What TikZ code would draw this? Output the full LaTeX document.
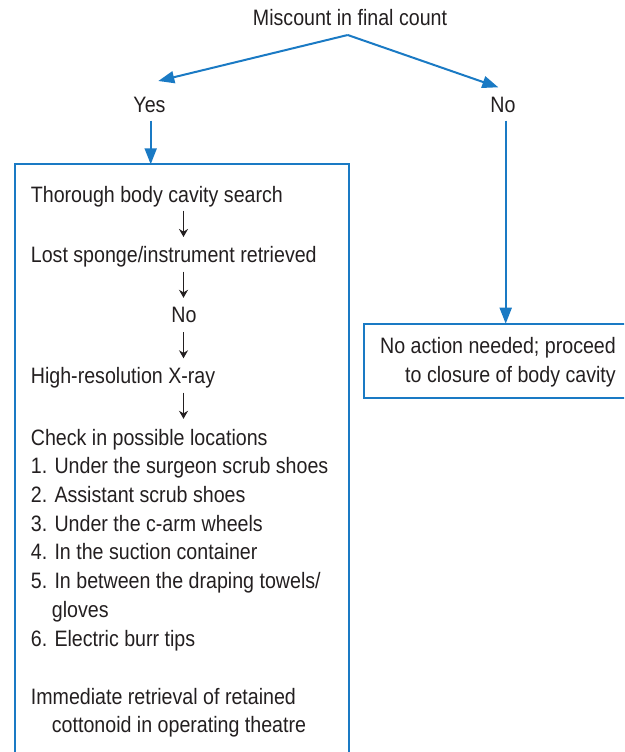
\documentclass[tikz,border=0pt]{standalone}
\usepackage{fontspec}
\setmainfont{Liberation Sans}[FakeStretch=0.88]
\usetikzlibrary{arrows.meta}
\definecolor{fblue}{HTML}{1A7AC4}
\definecolor{ftext}{HTML}{231F20}
\begin{document}
\begin{tikzpicture}[x=1pt,y=-1pt,
  font=\fontsize{22.3}{28.7}\selectfont,
  txt/.style={anchor=base west, inner sep=0pt, text=ftext},
  ctxt/.style={anchor=base, inner sep=0pt, text=ftext},
  boxstyle/.style={draw=fblue, line width=2pt, inner sep=0pt, anchor=north west},
  barrow/.style={-{Triangle[length=16pt,width=12pt]}, draw=fblue, line width=2pt},
  karrow/.style={-{Stealth[length=8pt,width=9pt]}, line width=1.6pt, draw=ftext}]
\useasboundingbox (0,0) rectangle (624,752);
\begin{scope}
\clip (0,0) rectangle (624,752);
% boxes
\node[boxstyle, minimum width=333.7pt, minimum height=640pt] (lbox) at (14,163.3) {};
\node[boxstyle, minimum width=300pt, minimum height=74pt] (rbox) at (363.3,322.7) {};
\end{scope}
% top
\node[ctxt] (top) at (350,26) {Miscount in final count};
\node[ctxt] (yes) at (149.5,112.3) {Yes};
\node[ctxt] (no) at (503,112.3) {No};
\coordinate (apex) at (347.7,35);
\coordinate (yestip) at (158.3,81);
\coordinate (notip) at (498.3,87.3);
\draw[barrow] (apex) -- (yestip);
\draw[barrow] (apex) -- (notip);
\coordinate (yesfrom) at (150.7,120.7);
\coordinate (nofrom) at (505.7,120.7);
\draw[barrow] (yesfrom) -- ([yshift=-1pt]yesfrom |- lbox.north);
\draw[barrow] (nofrom) -- ([yshift=-1pt]nofrom |- rbox.north);
% left box contents
\node[txt] (t1) at (30.7,202) {Thorough body cavity search};
\node[txt] (t2) at (30.7,262.7) {Lost sponge/instrument retrieved};
\node[ctxt] (t3) at (184,322) {No};
\node[txt] (t4) at (30.7,383) {High-resolution X-ray};
\node[txt] (t5) at (30.7,445) {Check in possible locations};
\node[txt] (l1) at (30.7,473.7) {1. Under the surgeon scrub shoes};
\node[txt] (l2) at (30.7,502.4) {2. Assistant scrub shoes};
\node[txt] (l3) at (30.7,531.1) {3. Under the c-arm wheels};
\node[txt] (l4) at (30.7,559.8) {4. In the suction container};
\node[txt] (l5) at (30.7,588.5) {5. In between the draping towels/};
\node[txt] (l5b) at (51.7,617) {gloves};
\node[txt] (l6) at (30.7,646) {6. Electric burr tips};
\node[txt] (im1) at (30.7,704) {Immediate retrieval of retained};
\node[txt] (im2) at (51.7,732.7) {cottonoid in operating theatre};
% black arrows
\coordinate (a1s) at (183.5,210.7); \coordinate (a1e) at (183.5,237);
\coordinate (a2s) at (183.5,271.5); \coordinate (a2e) at (183.5,297.8);
\coordinate (a3s) at (183.5,332); \coordinate (a3e) at (183.5,358.3);
\coordinate (a4s) at (183.5,392.5); \coordinate (a4e) at (183.5,418.8);
\draw[karrow] (a1s) -- (a1e);
\draw[karrow] (a2s) -- (a2e);
\draw[karrow] (a3s) -- (a3e);
\draw[karrow] (a4s) -- (a4e);
% right box contents
\node[txt] (r1) at (380,353.3) {No action needed; proceed};
\node[txt] (r2) at (405,382.7) {to closure of body cavity};
\end{tikzpicture}
\end{document}
